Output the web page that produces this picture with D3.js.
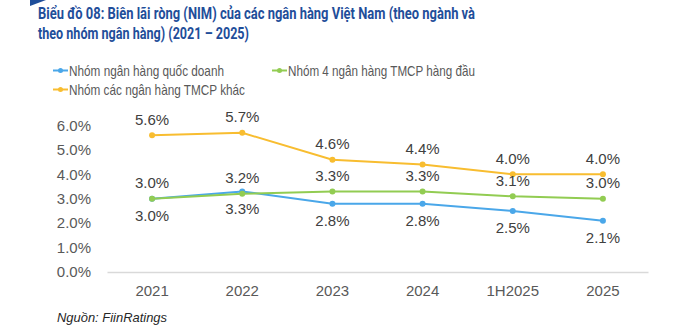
<!DOCTYPE html>
<html><head><meta charset="utf-8">
<script src="https://cdn.jsdelivr.net/npm/d3@7"></script>
<style>body{margin:0;background:#fff}svg{display:block}</style>
</head><body><svg id="c" width="700" height="331"></svg>
<script>
const categories = ["2021","2022","2023","2024","1H2025","2025"];
const quocDoanh = [3.0,3.3,2.8,2.8,2.5,2.1];
const top4 = [3.0,3.2,3.3,3.3,3.1,3.0];
const khac = [5.6,5.7,4.6,4.4,4.0,4.0];
const yTicks = [0,1,2,3,4,5,6];
const seriesNames = ["Nhóm ngân hàng quốc doanh","Nhóm 4 ngân hàng TMCP hàng đầu","Nhóm các ngân hàng TMCP khác"];

const svg = d3.select("#c");
const x = d3.scaleBand().domain(categories).range([107,648]);
const y = d3.scaleLinear().domain([0,6]).range([272,125.5]);
const FONT = "Arial, 'Liberation Sans', sans-serif";

// corner decoration
svg.append("path").attr("d","M30,6 L46,0 L30,0 Z").attr("fill","#1F4E9A");

// title
const title = svg.append("g").attr("font-family","Roboto, 'DejaVu Sans'").attr("font-weight","bold")
  .attr("font-size",16.5).attr("fill","#1F4E9A");
title.append("text").attr("x",38).attr("y",18.5).attr("textLength",437).attr("lengthAdjust","spacingAndGlyphs")
  .text("Biểu đồ 08: Biên lãi ròng (NIM) của các ngân hàng Việt Nam (theo ngành và");
title.append("text").attr("x",38).attr("y",38.5).attr("textLength",211).attr("lengthAdjust","spacingAndGlyphs")
  .text("theo nhóm ngân hàng) (2021 – 2025)");

const colors = ["#4AA7E9","#92CC52","#F8BD30"];
const series = [quocDoanh, top4, khac];

// legend
const legPos = [[53,70.5],[272,70.5],[53,89.5]];
const legLen = [155,187,176];
seriesNames.forEach((n,i)=>{
  const g = svg.append("g").attr("transform",`translate(${legPos[i][0]},${legPos[i][1]})`);
  g.append("line").attr("x1",0).attr("x2",15).attr("stroke",colors[i]).attr("stroke-width",2);
  g.append("circle").attr("cx",7.5).attr("r",2.5).attr("fill",colors[i]);
  g.append("text").attr("x",16).attr("dy","0.36em").attr("font-family",FONT)
    .attr("font-size",15).attr("fill","#595959")
    .attr("textLength",legLen[i]).attr("lengthAdjust","spacingAndGlyphs").text(n);
});

// y axis labels
const yAxis = d3.axisLeft(y).tickValues(yTicks).tickFormat(d=>d.toFixed(1)+"%").tickSize(0).tickPadding(0);
const ya = svg.append("g").attr("transform","translate(91,0)").call(yAxis);
ya.select(".domain").remove();
ya.selectAll("text").attr("font-family",FONT).attr("font-size",15).attr("fill","#595959");

// x axis
const xAxis = d3.axisBottom(x).tickSize(0).tickPadding(13);
const xa = svg.append("g").attr("transform","translate(0,272)").call(xAxis);
xa.select(".domain").attr("stroke","#D9D9D9").attr("stroke-width",1.5);
xa.selectAll("text").attr("font-family",FONT).attr("font-size",15).attr("fill","#595959");

const cx = d=>x(d)+x.bandwidth()/2;
const line = d3.line().x((d,i)=>cx(categories[i])).y(d=>y(d));
const labelOff = [17,-16,-16];
series.forEach((s,i)=>{
  svg.append("path").datum(s).attr("d",line).attr("fill","none").attr("stroke",colors[i]).attr("stroke-width",2);
  svg.selectAll(null).data(s).enter().append("circle").attr("cx",(d,j)=>cx(categories[j])).attr("cy",d=>y(d))
    .attr("r",3).attr("fill",colors[i]);
});
series.forEach((s,i)=>{
  svg.selectAll(null).data(s).enter().append("text").attr("x",(d,j)=>cx(categories[j])).attr("y",d=>y(d)+labelOff[i])
    .attr("dy","0.36em").attr("text-anchor","middle").attr("font-family",FONT)
    .attr("font-size",15).attr("fill","#404040").text(d=>d.toFixed(1)+"%");
});

svg.append("text").attr("x",57).attr("y",322).attr("font-family",FONT).attr("font-style","italic")
  .attr("font-size",13.5).attr("fill","#262626").attr("textLength",110).attr("lengthAdjust","spacingAndGlyphs")
  .text("Nguồn: FiinRatings");
</script></body></html>
